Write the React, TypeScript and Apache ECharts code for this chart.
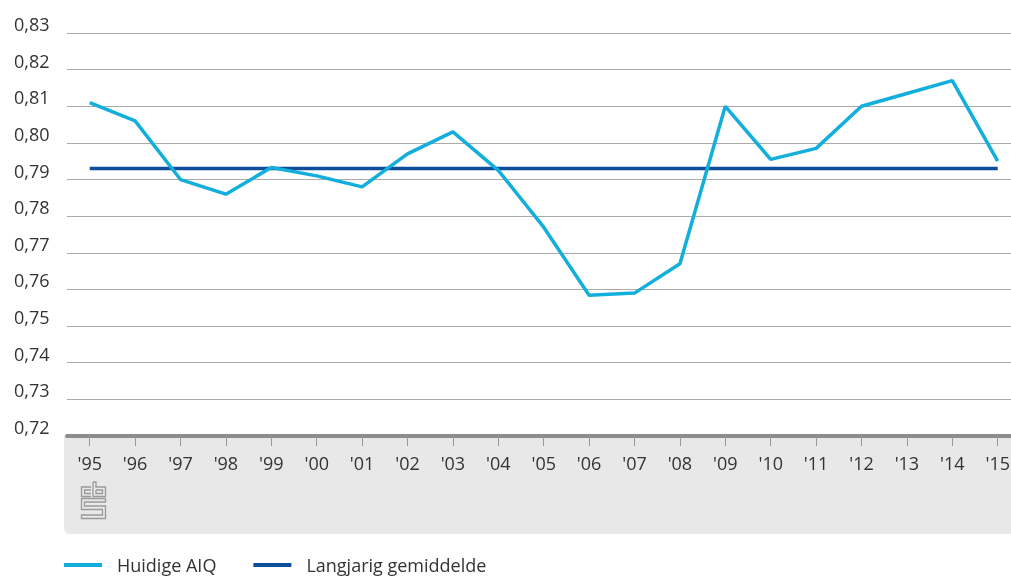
import React, { useEffect, useRef } from "react";
import * as echarts from "echarts";

const categories = ["'95", "'96", "'97", "'98", "'99", "'00", "'01", "'02", "'03", "'04", "'05", "'06", "'07", "'08", "'09", "'10", "'11", "'12", "'13", "'14", "'15"];
const huidigeAIQ = [0.811, 0.806, 0.790, 0.786, 0.7933, 0.791, 0.788, 0.797, 0.803, 0.7925, 0.777, 0.7584, 0.759, 0.767, 0.810, 0.7955, 0.7985, 0.810, 0.8135, 0.817, 0.795];
const langjarigGemiddelde = [0.793, 0.793, 0.793, 0.793, 0.793, 0.793, 0.793, 0.793, 0.793, 0.793, 0.793, 0.793, 0.793, 0.793, 0.793, 0.793, 0.793, 0.793, 0.793, 0.793, 0.793];
const seriesNames = ["Huidige AIQ", "Langjarig gemiddelde"];

const FONT = "'Open Sans', 'Noto Sans', sans-serif";
const LIGHT = "#12aedc";
const DARK = "#0d4d9a";

export default function App() {
  const ref = useRef<HTMLDivElement>(null);
  useEffect(() => {
    if (!ref.current) return;
    const chart = echarts.init(ref.current, undefined, { renderer: "svg" });
    const gray = "#999999";
    chart.setOption({
      animation: false,
      textStyle: { fontFamily: FONT },
      grid: { left: 67, top: 33, width: 953.4, height: 403, containLabel: false },
      graphic: [
        {
          type: "rect",
          z: -10,
          shape: { x: 64, y: 436, width: 970, height: 98, r: [0, 0, 0, 6] },
          style: { fill: "#e8e8e8" },
        },
        {
          type: "group",
          z: 5,
          children: [
            { type: "polyline", shape: { points: [[91, 487], [81.5, 487], [81.5, 496.5], [91, 496.5]] }, style: { stroke: gray, fill: "none", lineWidth: 1.3 } },
            { type: "polyline", shape: { points: [[91, 490], [84.5, 490], [84.5, 493.5], [91, 493.5]] }, style: { stroke: gray, fill: "none", lineWidth: 1.3 } },
            { type: "polyline", shape: { points: [[93, 482], [93, 496.5], [105.5, 496.5], [105.5, 487], [96, 487], [96, 482], [93, 482]] }, style: { stroke: gray, fill: "none", lineWidth: 1.3 } },
            { type: "polyline", shape: { points: [[96, 490], [102.5, 490], [102.5, 493.5], [96, 493.5], [96, 490]] }, style: { stroke: gray, fill: "none", lineWidth: 1.3 } },
            { type: "polyline", shape: { points: [[105.5, 498.5], [81.5, 498.5], [81.5, 509.5], [102.5, 509.5], [102.5, 515], [81.5, 515], [81.5, 518.5], [105.5, 518.5], [105.5, 506], [84.5, 506], [84.5, 502], [105.5, 502], [105.5, 498.5]] }, style: { stroke: gray, fill: "none", lineWidth: 1.3 } },
          ],
        },
      ],
      legend: {
        data: seriesNames,
        left: 64,
        top: 556,
        padding: 0,
        icon: "rect",
        itemWidth: 38,
        itemHeight: 4,
        itemGap: 37,
        textStyle: { fontFamily: FONT, fontSize: 18, color: "#333333", padding: [0, 0, 0, 10] },
      },
      xAxis: {
        type: "category",
        data: categories,
        boundaryGap: true,
        axisLine: { show: true, lineStyle: { color: "#8c8c8c", width: 4 } },
        axisTick: { show: true, alignWithLabel: true, length: 10, lineStyle: { color: "#999999", width: 1 } },
        axisLabel: { margin: 18, fontFamily: FONT, fontSize: 18, color: "#333333", interval: 0 },
        splitLine: { show: false },
      },
      yAxis: {
        type: "value",
        min: 0.72,
        max: 0.83,
        interval: 0.01,
        axisLine: { show: false },
        axisTick: { show: false },
        splitLine: { show: true, lineStyle: { color: "#aaaaaa", width: 1 } },
        axisLabel: {
          margin: 53,
          align: "left",
          verticalAlign: "bottom",
          lineHeight: 18,
          fontFamily: FONT,
          fontSize: 18,
          color: "#333333",
          formatter: (v: number) => v.toFixed(2).replace(".", ","),
        },
      },
      series: [
        {
          name: seriesNames[1],
          type: "line",
          data: langjarigGemiddelde,
          showSymbol: false,
          symbol: "none",
          lineStyle: { color: DARK, width: 3.5 },
          itemStyle: { color: DARK },
          z: 3,
        },
        {
          name: seriesNames[0],
          type: "line",
          data: huidigeAIQ,
          showSymbol: false,
          symbol: "none",
          lineStyle: { color: LIGHT, width: 3.5 },
          itemStyle: { color: LIGHT },
          z: 4,
        },
      ],
    });
    return () => chart.dispose();
  }, []);
  return (
    <div style={{ position: "fixed", left: 0, top: 0, width: 1011, height: 579, overflow: "hidden" }}>
      <div ref={ref} style={{ width: 1022, height: 579 }} />
    </div>
  );
}
